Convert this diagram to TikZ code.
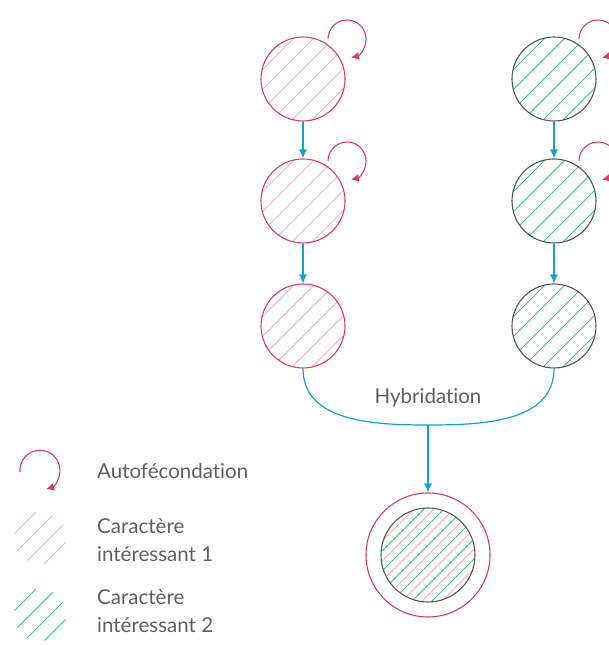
\documentclass[tikz,border=0pt]{standalone}
\usepackage{fontspec}
\setmainfont{Lato}[Ligatures=NoCommon]
\usepackage{tikz}
\usetikzlibrary{positioning, arrows.meta}
\definecolor{rougeA}{RGB}{222,58,98}
\definecolor{roseA}{RGB}{240,172,192}
\definecolor{vertB}{RGB}{58,190,122}
\definecolor{grisB}{RGB}{85,85,85}
\definecolor{flux}{RGB}{22,160,205}
\definecolor{texte}{RGB}{95,95,95}
\tikzset{
  plante/.style = {circle, minimum size=84pt, inner sep=0pt, line width=1.1pt},
  hachA/.style = {path picture={
      \foreach \d in {-110,-90,...,110}
        \draw[roseA, line width=0.9pt] ([shift={(\d pt-70pt,-70pt)}]path picture bounding box.center) -- ++(140pt,140pt);}},
  hachB/.style = {path picture={
      \foreach \d in {-110,-90,...,110}
        \draw[vertB, line width=0.9pt] ([shift={(\d pt-70pt,-70pt)}]path picture bounding box.center) -- ++(140pt,140pt);}},
  hachAB/.style = {path picture={
      \foreach \d in {-110,-90,...,110}{
        \draw[vertB, line width=0.9pt] ([shift={(\d pt-70pt,-70pt)}]path picture bounding box.center) -- ++(140pt,140pt);
        \draw[roseA, line width=0.9pt] ([shift={(\d pt-60pt,-70pt)}]path picture bounding box.center) -- ++(140pt,140pt);}}},
  ligA/.style = {plante, draw=rougeA, hachA},
  ligB/.style = {plante, draw=grisB, hachB},
  autof/.style = {-{Latex[length=8pt,width=8pt]}, draw=rougeA, line width=1.1pt},
  fleche/.style = {-{Latex[length=9pt,width=8pt]}, draw=flux, line width=1.2pt},
  lien/.style = {draw=flux, line width=1.2pt},
  legende/.style = {anchor=west, align=left, text=texte, font=\fontsize{20.5}{28}\selectfont, inner sep=0pt}
}
\begin{document}
\begin{tikzpicture}[x=1pt, y=1pt]
\useasboundingbox (0,0) rectangle (609,645);
\clip (0,0) rectangle (609,645);

% lignee 1
\node[ligA] (a1) at (303,566) {};
\node[ligA] (a2) at (303,444) {};
\node[ligA] (a3) at (303,319) {};
% lignee 2
\node[ligB] (b1) at (554,566) {};
\node[ligB] (b2) at (554,444) {};
\node[ligB] (b3) at (554,319) {};
% hybride
\node[plante, draw=rougeA, minimum size=124pt] (h) at (428,90) {};
\node[plante, draw=grisB, minimum size=94pt, hachAB] (hin) at (h) {};

\draw[fleche] (a1) -- (a2);
\draw[fleche] (a2) -- (a3);
\draw[fleche] (b1) -- (b2);
\draw[fleche] (b2) -- (b3);

\foreach \n in {a1,a2,b1,b2}
  \draw[autof] ([shift={(25pt,40pt)}]\n.center) arc[start angle=180, end angle=-78, radius=19pt];

\coordinate (jonc) at (428,220);
\draw[lien] (a3.south) to[out=-90, in=180] (jonc);
\draw[lien] (b3.south) to[out=-90, in=0] (jonc);
\draw[fleche] (jonc) -- (h.north);
\node[legende, anchor=center] (hyb) at (428,247) {Hybridation};

% legende
\coordinate (boucle) at (20,173);
\draw[autof] (boucle) arc[start angle=185, end angle=-72, radius=20pt];
\node[legende] (l1) at (97,174) {Autofécondation};
\node[circle, minimum size=52pt, hachA] (pA) at (40,107) {};
\node[legende] (l2) at (97,105) {Caractère\\intéressant 1};
\node[circle, minimum size=52pt, hachB] (pB) at (40,30) {};
\node[legende] (l3) at (97,34) {Caractère\\intéressant 2};
\end{tikzpicture}
\end{document}
